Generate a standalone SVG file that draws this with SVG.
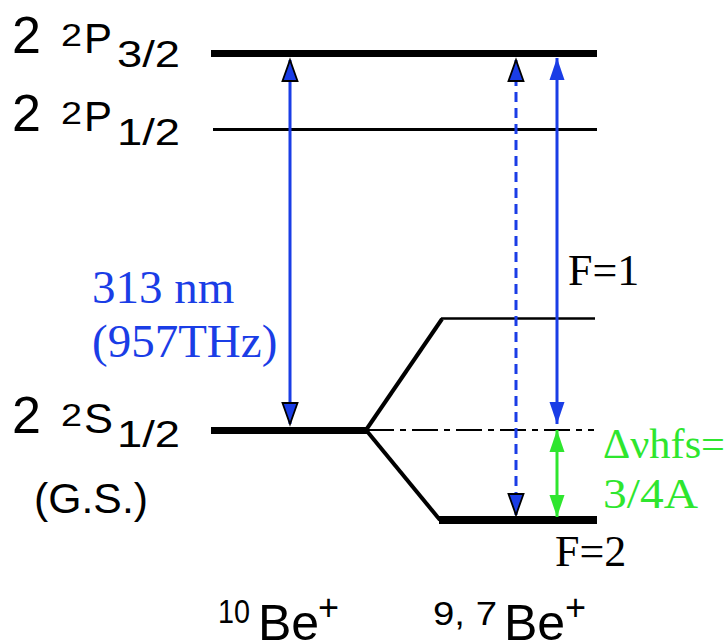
<svg xmlns="http://www.w3.org/2000/svg" width="728" height="643" viewBox="0 0 728 643">
<style>
.sans{font-family:"Liberation Sans",Arial,sans-serif;fill:#000}
.serif{font-family:"Liberation Serif","Times New Roman",serif}
.lvl{stroke:#000;fill:none}
.blue{fill:#1a3de6}
.green{fill:#2ee62e}
</style>
<defs>
<marker id="ahk" markerUnits="userSpaceOnUse" markerWidth="26" markerHeight="20" viewBox="0 0 26 20" refX="23" refY="10" orient="auto-start-reverse">
<path d="M2,2.5 L23,10 L2,17.5 z" fill="#1a3de6" stroke="#000" stroke-width="1.8" stroke-linejoin="miter"/>
</marker>
<marker id="ahb" markerUnits="userSpaceOnUse" markerWidth="26" markerHeight="20" viewBox="0 0 26 20" refX="23" refY="10" orient="auto-start-reverse">
<path d="M1,2.5 L23,10 L1,17.5 z" fill="#1a3de6"/>
</marker>
<marker id="ahg" markerUnits="userSpaceOnUse" markerWidth="26" markerHeight="20" viewBox="0 0 26 20" refX="23" refY="10" orient="auto-start-reverse">
<path d="M1,2.5 L23,10 L1,17.5 z" fill="#2ee62e"/>
</marker>
</defs>

<g id="level-P32"><line class="lvl" x1="211" y1="53.5" x2="597" y2="53.5" stroke-width="7"/></g>
<g id="level-P12"><line class="lvl" x1="213" y1="129.5" x2="597" y2="129.5" stroke-width="3"/></g>
<g id="level-S12">
<line class="lvl" x1="211" y1="430.5" x2="368" y2="430.5" stroke-width="7"/>
<line class="lvl" x1="368" y1="430" x2="594" y2="430" stroke-width="2" stroke-dasharray="26,6,6,6"/>
</g>
<g id="level-F1">
<line class="lvl" x1="366" y1="430" x2="442" y2="319" stroke-width="4"/>
<line class="lvl" x1="441" y1="318.5" x2="595" y2="318.5" stroke-width="2.5"/>
</g>
<g id="level-F2">
<line class="lvl" x1="366" y1="430" x2="440" y2="520" stroke-width="4"/>
<line class="lvl" x1="439" y1="520" x2="597" y2="520" stroke-width="8"/>
</g>

<g id="connectors">
<line x1="290" y1="60" x2="290" y2="424" stroke="#1a3de6" stroke-width="3" marker-start="url(#ahk)" marker-end="url(#ahk)"/>
<line x1="516" y1="60" x2="516" y2="515" stroke="#1a3de6" stroke-width="3" stroke-dasharray="10,6" marker-start="url(#ahk)" marker-end="url(#ahk)"/>
<line x1="557" y1="58" x2="557" y2="424" stroke="#1a3de6" stroke-width="3" marker-start="url(#ahb)" marker-end="url(#ahb)"/>
<line x1="557" y1="430" x2="557" y2="517" stroke="#2ee62e" stroke-width="3" marker-start="url(#ahg)" marker-end="url(#ahg)"/>
</g>

<g id="label-P32" class="sans">
<text x="12" y="53" font-size="52">2</text>
<text x="61" y="46" font-size="32" textLength="21" lengthAdjust="spacingAndGlyphs">2</text>
<text x="84" y="53" font-size="42" textLength="28" lengthAdjust="spacingAndGlyphs">P</text>
<text x="117" y="67" font-size="36" textLength="63" lengthAdjust="spacingAndGlyphs">3/2</text>
</g>
<g id="label-P12" class="sans">
<text x="12" y="131" font-size="52">2</text>
<text x="61" y="124" font-size="32" textLength="21" lengthAdjust="spacingAndGlyphs">2</text>
<text x="84" y="131" font-size="42" textLength="28" lengthAdjust="spacingAndGlyphs">P</text>
<text x="117" y="145" font-size="36" textLength="63" lengthAdjust="spacingAndGlyphs">1/2</text>
</g>
<g id="label-S12" class="sans">
<text x="12" y="433" font-size="52">2</text>
<text x="61" y="426" font-size="32" textLength="21" lengthAdjust="spacingAndGlyphs">2</text>
<text x="84" y="433" font-size="42" textLength="29" lengthAdjust="spacingAndGlyphs">S</text>
<text x="117" y="447" font-size="36" textLength="63" lengthAdjust="spacingAndGlyphs">1/2</text>
<text x="34" y="513" font-size="43" textLength="114" lengthAdjust="spacingAndGlyphs">(G.S.)</text>
</g>

<g id="label-wavelength" class="serif blue">
<text x="92" y="303" font-size="47">313 nm</text>
<text x="92" y="357" font-size="47">(957THz)</text>
</g>
<g id="label-F1" class="serif"><text x="568" y="285" font-size="44">F=1</text></g>
<g id="label-F2" class="serif"><text x="555" y="566" font-size="44">F=2</text></g>
<g id="label-hfs" class="serif green">
<text x="603" y="458" font-size="43" textLength="122" lengthAdjust="spacingAndGlyphs">Δνhfs=</text>
<text x="603" y="508" font-size="43" textLength="95" lengthAdjust="spacingAndGlyphs">3/4A</text>
</g>
<g id="label-10Be" class="sans">
<text x="218" y="623" font-size="34" textLength="32" lengthAdjust="spacingAndGlyphs">10</text>
<text x="258" y="640" font-size="50">Be</text>
<text x="318" y="620" font-size="36">+</text>
</g>
<g id="label-97Be" class="sans">
<text x="433" y="625" font-size="34" textLength="64" lengthAdjust="spacingAndGlyphs">9, 7</text>
<text x="504" y="640" font-size="50">Be</text>
<text x="565" y="620" font-size="36">+</text>
</g>
</svg>
